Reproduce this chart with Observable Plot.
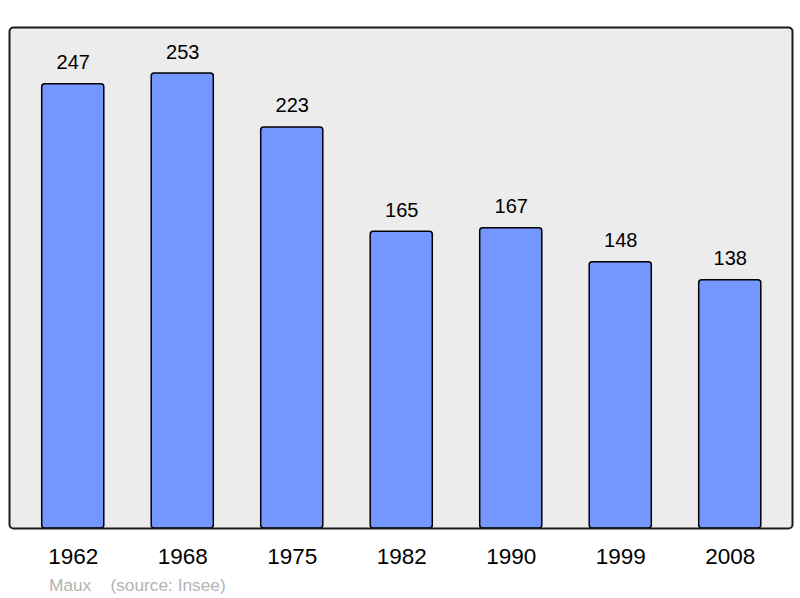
<!DOCTYPE html>
<html>
<head>
<meta charset="utf-8">
<script src="https://cdn.jsdelivr.net/npm/d3@7"></script>
<script src="https://cdn.jsdelivr.net/npm/@observablehq/plot@0.6"></script>
<style>
  html, body { margin: 0; padding: 0; background: #fff; }
  #wrap { position: relative; width: 800px; height: 598px; }
  #caption { position: absolute; left: 49px; top: 577px; font-family: "Liberation Sans", Arial, sans-serif; font-size: 17.3px; line-height: 16px; color: #b3b3b3; white-space: pre; }
</style>
</head>
<body>
<div id="wrap"></div>
<script>
const years = ["1962", "1968", "1975", "1982", "1990", "1999", "2008"];
const population = [247, 253, 223, 165, 167, 148, 138];
const commune = "Maux";
const source = "(source: Insee)";

const data = years.map((y, i) => ({year: y, pop: population[i]}));

const chart = Plot.plot({
  width: 800,
  height: 570,
  marginLeft: 9,
  marginRight: 8,
  marginTop: 27,
  marginBottom: 42,
  style: {fontFamily: "'Liberation Sans', Arial, sans-serif", background: "#fff"},
  x: {domain: years, range: [18, 784.5], round: false, paddingInner: 0.433, paddingOuter: 0.2165, label: null},
  y: {domain: [0, 278.6], axis: null},
  marks: [
    Plot.frame({fill: "#ececec", stroke: "none", rx: 4}),
    Plot.barY(data, {x: "year", y: "pop", fill: "#7396ff", stroke: "#000", strokeWidth: 1.5, rx: 3}),
    Plot.text(data, {x: "year", y: "pop", text: d => String(d.pop), dy: -15, lineAnchor: "bottom", fontSize: 20, fill: "#000"}),
    Plot.axisX({tickSize: 0, tickPadding: 20, fontSize: 22.5, label: null, color: "#000"}),
    Plot.frame({fill: "none", stroke: "#1a1a1a", strokeWidth: 2, rx: 4})
  ]
});
document.getElementById("wrap").appendChild(chart);
const cap = document.createElement("div");
cap.id = "caption";
cap.textContent = commune + "    " + source;
document.getElementById("wrap").appendChild(cap);
</script>
</body>
</html>
